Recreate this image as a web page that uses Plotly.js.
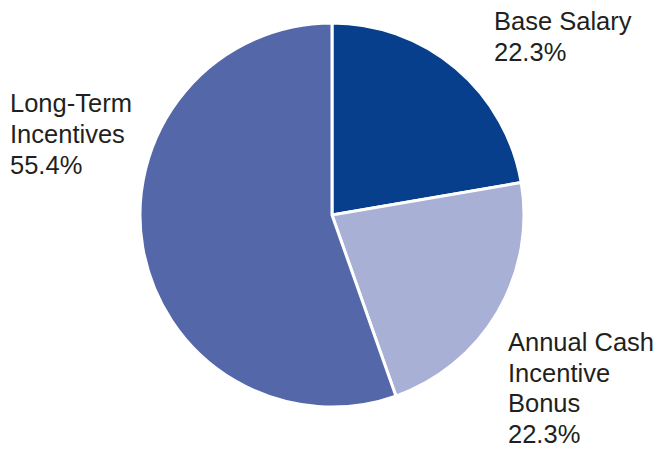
<!DOCTYPE html>
<html>
<head>
<meta charset="utf-8">
<script src="https://cdn.plot.ly/plotly-3.0.1.min.js"></script>
<style>html,body{margin:0;padding:0;background:#fff;}#chart{width:658px;height:449px;}</style>
</head>
<body>
<div id="chart"></div>
<script>
const categories = ["Base Salary", "Annual Cash Incentive Bonus", "Long-Term Incentives"];
const values = [22.3, 22.3, 55.4];
const colors = ["#073F8C", "#A8B0D6", "#5468A9"];
const labelLines = [["Base Salary", "22.3%"], ["Annual Cash", "Incentive", "Bonus", "22.3%"], ["Long-Term", "Incentives", "55.4%"]];
// label anchor positions in pixels (left x, first line center y, line step)
const labelPos = [[493, 21, 31], [507, 342, 30.7], [9, 103, 31]];

const W = 658, H = 449;
const annotations = [];
labelLines.forEach((lines, i) => {
  lines.forEach((t, j) => {
    annotations.push({
      text: t, showarrow: false, xref: "paper", yref: "paper",
      x: labelPos[i][0] / W, y: 1 - (labelPos[i][1] + j * labelPos[i][2]) / H,
      xanchor: "left", yanchor: "middle", borderpad: 0,
      font: {family: "Liberation Sans, Arial, sans-serif", size: 25.5, color: "#231F20"}
    });
  });
});

const cx = 332, cy = 215, r = 192;
const trace = {
  type: "pie", labels: categories, values: values, sort: false, direction: "clockwise", rotation: 0,
  marker: {colors: colors, line: {color: "#ffffff", width: 3}},
  textinfo: "none", hoverinfo: "label+percent",
  domain: {x: [(cx - r) / W, (cx + r) / W], y: [1 - (cy + r) / H, 1 - (cy - r) / H]}
};
Plotly.newPlot("chart", [trace], {
  width: W, height: H, margin: {l: 0, r: 0, t: 0, b: 0}, showlegend: false,
  paper_bgcolor: "#ffffff", annotations: annotations
}, {displayModeBar: false, staticPlot: true});
</script>
</body>
</html>
